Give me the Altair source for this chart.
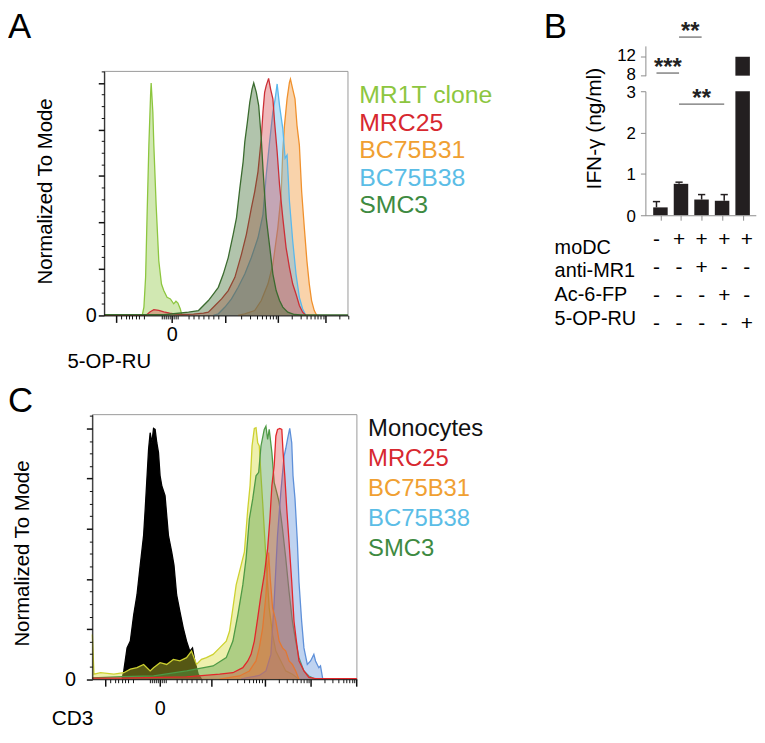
import altair as alt
import pandas as pd

FONT = "Liberation Sans"
W, H = 755, 725

# ---------------- Panel A : 5-OP-RU (x: display channel, y: % of mode)
A_XDOM, A_YDOM = [0, 245.7], [0, 105]
A_X_MAJOR = [11.7, 68, 121.7, 175, 222.7]
A_X_MINOR = [16.7, 21.7, 25, 28.3, 31.7, 35, 40, 58, 60, 62, 64, 66, 70, 72, 74,
             85, 90, 95, 100, 105, 110, 115, 137.7, 147.1, 153.8, 159, 163.2, 166.7,
             169.8, 172.6, 189.4, 197.8, 203.7, 208.3, 212.1, 215.3, 218.1, 220.5, 237.1, 245.5]
Y_MAJOR = [0, 20, 40, 60, 80, 100]
Y_MINOR = [5, 10, 15, 25, 30, 35, 45, 50, 55, 65, 70, 75, 85, 90, 95, 105]

A_MR1T_x = [38.3, 40, 41.7, 43.3, 45, 46.7, 47.3, 49, 50, 52.3, 55, 57.7, 60, 63.3, 66.7, 70, 72.3, 74.3, 76.7, 78.3]
A_MR1T_y = [0, 3.6, 16.4, 44.8, 73.3, 94.6, 100, 87.5, 73.3, 47.7, 23.5, 13.5, 10.7, 7.8, 7.1, 5, 6.1, 5.3, 2.8, 0]
A_MRC25_x = [0, 42, 46, 50, 55, 60, 66, 72, 78.3, 90, 100, 105, 111.7, 118.3, 125, 131.7, 138.3, 143.3, 148.3, 151.7,
             155, 158.3, 160, 161.7, 163.3, 165.7, 167.7, 170, 171.7, 174.3, 176.7, 180, 183.3, 186.7, 190, 193.3, 196.7, 200, 203.3]
A_MRC25_y = [0, 0, 1.5, 2.5, 2.2, 1.5, 1, 0.6, 0.4, 0.6, 1, 1.4, 4.3, 7.1, 10.7, 16.4, 26.3, 34.9, 46.2, 53.3,
             61.9, 76.1, 87.5, 96, 98.9, 102, 97.4, 93.2, 83.2, 70.4, 56.2, 42, 29.2, 20.6, 13.5, 9.2, 4.3, 1.4, 0]
A_B38_x = [110, 115, 121.7, 128.3, 135, 141.7, 148.3, 155, 160, 163.3, 166.7, 170, 172.3, 174.3, 176.7, 180,
           182.3, 184.3, 186.7, 190, 193.3, 196.7, 200, 203.3]
A_B38_y = [0, 0.7, 3.6, 7.1, 12.1, 17.8, 24.9, 33.4, 43.4, 60.5, 74.7, 87.5, 93.2, 99.6, 90.3, 80.4,
           67.6, 69, 49.1, 32, 17.8, 7.8, 2.8, 0]
A_B31_x = [135, 141.7, 151.7, 158.3, 165, 170, 175, 178.3, 180, 181.7, 184.3, 186.7, 187.7, 190, 192.3, 194.3,
           196.7, 199, 201.7, 204.3, 206.7, 209, 211.7, 214.3]
A_B31_y = [0, 0.7, 2.1, 6.4, 13.5, 22, 37.7, 51.9, 70.4, 81.8, 93.2, 100.3, 101.7, 97.4, 93.2, 81.8,
           73.3, 53.3, 37.7, 23.5, 13.5, 6.4, 2.1, 0]
A_SMC3_x = [0, 60, 85, 95, 105, 110, 115, 120, 125, 130, 133.3, 136.7, 140, 141.7, 144.3, 146.7, 149, 150.7,
            153.3, 155.7, 158.3, 160, 161.7, 163.3, 165.7, 167.7, 170, 173.3, 176.7, 180, 185, 191.7, 198.3, 245.7]
A_SMC3_y = [0.3, 0.3, 1.4, 2.1, 6.4, 9.2, 12.1, 17.8, 24.9, 34.9, 42, 54.8, 66.1, 74.7, 83.2, 91.7, 97.4, 100,
            96, 90.3, 76.1, 63.3, 51.9, 42, 33.4, 26.3, 17.8, 10.7, 6.4, 3.6, 1.4, 0.4, 0.2, 0.2]
A_LEGEND = ["MR1T clone", "MRC25", "BC75B31", "BC75B38", "SMC3"]
A_LEGEND_COLORS = ["#8dc63f", "#d7282f", "#f0a032", "#5bbde6", "#3e8a41"]

# ---------------- Panel C : CD3
C_XDOM, C_YDOM = [0, 266.7], [0, 105.5]
C_X_MAJOR = [13, 68, 120.3, 173.7, 220.3, 266.3]
C_X_MINOR = [18, 23, 26.3, 29.7, 33, 36.3, 41.3, 58, 60, 62, 64, 66, 70, 72, 74, 85, 90, 95, 100, 105, 110, 115,
             136.4, 145.8, 152.5, 157.6, 161.8, 165.3, 168.4, 171.2, 187.7, 196, 201.8, 206.3, 210, 213.1, 215.9,
             218.2, 234.1, 242.2, 248, 252.5, 256.1, 259.2, 261.9, 264.3]

C_MONO_x = [30, 31.7, 35, 38.3, 41.7, 45, 48.3, 51.7, 53.3, 55, 56.7, 58.3, 60, 61.7, 63.3, 65, 66.7, 68.3, 70,
            73.3, 75, 76.7, 80, 82.3, 85, 88.3, 91.7, 95, 98.3, 101, 103.3, 106.7, 110]
C_MONO_y = [0, 3.3, 12.5, 15.2, 25.7, 33.6, 45.5, 57.4, 67.9, 79.8, 91.7, 98.3, 94.3, 100, 99.6, 94.3, 90.4, 81.1,
            77.2, 73.2, 65.3, 57.4, 50.8, 45.5, 33.6, 27, 20.4, 15.2, 11.2, 12.5, 7.3, 2, 0]
C_YEL_x = [0, 1.7, 8.3, 21.7, 31.7, 38.3, 45, 51.7, 58.3, 61.7, 68.3, 75, 81.7, 88.3, 95, 100, 105, 110, 115, 121.7,
           128.3, 135, 138.3, 141.7, 145, 150, 153.3, 156.7, 159, 161, 163.3, 165, 166.7, 168.3, 170, 171.7, 175,
           178.3, 181.7, 185, 190, 195, 201.7, 208.3]
C_YEL_y = [17.8, 2, 2.6, 2, 2.6, 4, 4.6, 5.9, 3.3, 4.6, 6.6, 5.9, 7.9, 7.3, 8.6, 11.2, 5.9, 7.9, 8.6, 9.9,
           12.5, 15.2, 19.1, 28.4, 37.6, 45.5, 50.8, 67.9, 77.2, 93, 100, 100.3, 94.3, 93, 81.1, 70.6, 48.2,
           28.4, 17.8, 11.2, 7.3, 3.3, 2, 0]
C_SMC3_x = [0, 30, 61.7, 95, 121.7, 135, 141.7, 146.7, 151.7, 155, 158.3, 161.7, 165, 167.7, 170, 173.3, 175,
            176.7, 178.3, 181, 183.3, 186.7, 188.3, 191.7, 195, 198.3, 201.7, 205, 208.3, 213.3, 218.3, 225]
C_SMC3_y = [0.5, 1, 1.3, 3.3, 5.3, 8.6, 15.2, 25.7, 37.6, 48.2, 64, 71.9, 81.1, 82.5, 93, 99.6, 100.9,
            95.6, 99.6, 90.4, 78.5, 73.2, 70.6, 60, 48.2, 35, 23.1, 15.2, 8.6, 3.3, 1.3, 0]
C_B38_x = [150, 155, 168.3, 175, 180, 183.3, 186.7, 190, 193.3, 195, 196.7, 199, 201, 202.3, 204.3, 206.7, 208.3,
           211, 213.3, 216.7, 220, 223.3, 225, 228.3, 230, 232.3]
C_B38_y = [0, 0.5, 1.5, 3.3, 9.9, 31, 57.4, 74.5, 89, 92, 95.6, 100, 94.3, 81.1, 71.9, 54.7, 38.9,
           23.1, 12.5, 5.9, 7.3, 9.9, 7.3, 4.6, 5.3, 0]
C_B31_x = [128.3, 148.3, 158.3, 165, 168.3, 171.7, 175, 177.7, 179.3, 181.7, 185, 188.3, 191.7, 195, 198.3, 201.7, 205, 208.3]
C_B31_y = [0, 1.3, 3.3, 7.3, 12.5, 20.4, 33.6, 50.5, 40.2, 28.4, 23.1, 15.2, 12.5, 11.2, 7.3, 5.9, 3.3, 0]
C_MRC25_x = [0, 28.3, 95, 128.3, 141.7, 151.7, 156.7, 160, 163.3, 166.7, 170, 173.3, 176.7, 179, 181, 183.3, 185,
             186.7, 189, 191, 192.3, 194, 196, 198.3, 201, 203.3, 205.7, 208.3, 213.3, 218.3, 225, 266.7]
C_MRC25_y = [0.4, 0.4, 0.9, 2, 2.6, 4.6, 7.3, 9.9, 15.2, 24.4, 33.6, 41.6, 52.1, 64, 77.2, 85.1, 97,
             99.6, 100, 99.6, 90.4, 81.1, 67.9, 54.7, 38.9, 23.1, 15.2, 7.3, 3.3, 0.7, 0.2, 0.2]
C_LEGEND = ["Monocytes", "MRC25", "BC75B31", "BC75B38", "SMC3"]
C_LEGEND_COLORS = ["#111111", "#d7282f", "#f0a032", "#5bbde6", "#3e8a41"]

# ---------------- Panel B : IFN-gamma
B_IDX = [1, 2, 3, 4, 5]
B_MEAN = [0.19, 0.76, 0.38, 0.35, 12]
B_ERR_IDX = [1, 2, 3, 4]
B_ERR_HI = [0.33, 0.80, 0.50, 0.50]
B_SIG_FROM = [1, 2, 2]
B_SIG_TO = [2, 3, 4]
B_SIG_LEVEL = [3.44, 4.31, 2.69]
B_SIG_TEXT = ["***", "**", "**"]
T_ROWS = ["moDC", "anti-MR1", "Ac-6-FP", "5-OP-RU"]
T_SIGNS = [["-", "+", "+", "+", "+"],
           ["-", "-", "+", "-", "-"],
           ["-", "-", "-", "+", "-"],
           ["-", "-", "-", "-", "+"]]


def sc(dom, rng, **kw):
    return alt.Scale(domain=dom, range=rng, nice=False, zero=False, **kw)


def hist(xs, ys, fill, op, xsc, ysc, line=None, lw=1.3):
    df = pd.DataFrame({"x": xs, "y": ys})
    return alt.Chart(df).mark_area(
        fill=fill, fillOpacity=op, line={"color": line or fill, "strokeWidth": lw}
    ).encode(x=alt.X("x:Q", scale=xsc, axis=None), y=alt.Y("y:Q", scale=ysc, axis=None))


def ax(orient, offset, values, size, width=1.0, labels=False, expr=None, pad=2, color="#111111",
       domain=True, fsize=20, loff=0):
    kw = dict(orient=orient, offset=offset, values=values, tickSize=size, tickWidth=width,
              tickColor=color, domain=domain, domainColor=color, domainWidth=1, grid=False,
              title=None, labels=labels, zindex=2, labelOverlap=False, labelFlush=False)
    if labels:
        kw.update(labelFont=FONT, labelFontSize=fsize, labelColor="black", labelPadding=pad, labelOffset=loff)
        if expr:
            kw.update(labelExpr=expr)
    return alt.Axis(**kw)


def frame(xdom, ydom, xsc, ysc, xaxis, yaxis, stroke_op):
    df = pd.DataFrame({"x0": [xdom[0]], "x1": [xdom[1]], "y0": [ydom[0]], "y1": [ydom[1]]})
    return alt.Chart(df).mark_rect(fillOpacity=0, stroke="#9a9a9a", strokeWidth=1, strokeOpacity=stroke_op).encode(
        x=alt.X("x0:Q", scale=xsc, axis=xaxis), x2="x1:Q",
        y=alt.Y("y0:Q", scale=ysc, axis=yaxis), y2="y1:Q")


def text(t, x, y, size, color="black", angle=0, align="left", baseline="middle", weight="normal"):
    return alt.Chart(pd.DataFrame({"t": [t]})).mark_text(
        font=FONT, fontSize=size, color=color, angle=angle, align=align, baseline=baseline, fontWeight=weight
    ).encode(x=alt.value(x), y=alt.value(y), text="t:N")


def legend(labels, colors, x, yrng, size):
    df = pd.DataFrame({"label": labels, "color": colors, "row": list(range(len(labels)))})
    return alt.Chart(df).mark_text(font=FONT, fontSize=size, align="left", baseline="middle").encode(
        x=alt.value(x), y=alt.Y("row:Q", scale=sc([0, len(labels) - 1], yrng), axis=None),
        text="label:N", color=alt.Color("color:N", scale=None))


layers = []

# ---- Panel A
AX = sc(A_XDOM, [97, 342.7])
AY = sc(A_YDOM, [307, 61])
layers.append(frame(A_XDOM, A_YDOM, AX, AY,
                    ax("bottom", 307 - H, A_X_MAJOR, 7, 1.5, True, "datum.value == 68 ? '0' : ''", 2),
                    ax("left", -97, Y_MAJOR, 6, 1.5, True, "datum.value == 0 ? '0' : ''", 2), 1))
layers.append(frame(A_XDOM, A_YDOM, AX, AY,
                    ax("bottom", 307 - H, A_X_MINOR, 3.5, 1, domain=False),
                    ax("left", -97, Y_MINOR, 3, 1, domain=False), 0))
layers += [
    hist(A_MR1T_x, A_MR1T_y, "#8dc63f", 0.4, AX, AY),
    hist(A_B31_x, A_B31_y, "#f0912d", 0.4, AX, AY),
    hist(A_B38_x, A_B38_y, "#5ab8ec", 0.4, AX, AY),
    hist(A_MRC25_x, A_MRC25_y, "#d0343a", 0.35, AX, AY, "#cc2f36"),
    hist(A_SMC3_x, A_SMC3_y, "#3b6b2f", 0.4, AX, AY),
]

# ---- Panel C
CX = sc(C_XDOM, [85, 351.7])
CY = sc(C_YDOM, [673.7, 407])
layers.append(frame(C_XDOM, C_YDOM, CX, CY,
                    ax("bottom", 673.7 - H, C_X_MAJOR, 7, 1.5, True, "datum.value == 68 ? '0' : ''", 13),
                    ax("left", -85, Y_MAJOR, 6, 1.5, True, "datum.value == 0 ? '0' : ''", 11), 1))
layers.append(frame(C_XDOM, C_YDOM, CX, CY,
                    ax("bottom", 673.7 - H, C_X_MINOR, 3.5, 1, domain=False),
                    ax("left", -85, Y_MINOR, 3, 1, domain=False), 0))
layers += [
    hist(C_MONO_x, C_MONO_y, "#000000", 1.0, CX, CY),
    hist(C_YEL_x, C_YEL_y, "#d5d933", 0.4, CX, CY, "#cdd130"),
    hist(C_SMC3_x, C_SMC3_y, "#4e9a45", 0.4, CX, CY),
    hist(C_B38_x, C_B38_y, "#5e90d9", 0.4, CX, CY),
    hist(C_B31_x, C_B31_y, "#e8972c", 0.35, CX, CY),
    hist(C_MRC25_x, C_MRC25_y, "#d94040", 0.35, CX, CY, "#e3262a"),
]

# ---- Panel B
GREY = "#8c8c8c"
BX = sc([0.5, 5.4], [642.3, 753.8])
BLO = sc([0, 3], [206, 81])
BLO_C = sc([0, 3], [206, 81], clamp=True)
BHI = sc([8, 14.3], [65.3, 35.3])
dfB = pd.DataFrame({"i": B_IDX, "v": B_MEAN})
layers.append(alt.Chart(dfB).mark_bar(size=14.6, color="#231f20").encode(
    x=alt.X("i:Q", scale=BX, axis=ax("bottom", 206 - H, B_IDX, 5, 1, color=GREY)),
    y=alt.Y("v:Q", scale=BLO_C,
            axis=ax("left", -642.5, [0, 1, 2, 3], 5, 1, True, None, 5, GREY, fsize=17, loff=1))))
layers.append(alt.Chart(dfB).transform_filter("datum.v > 8").mark_bar(size=14.6, color="#231f20").encode(
    x=alt.X("i:Q", scale=BX, axis=None),
    y=alt.Y("v:Q", scale=BHI, axis=ax("left", -642.5, [8, 12], 5, 1, True, None, 5, GREY, fsize=17, loff=-1.5)),
    y2=alt.datum(8)))
dfE = pd.DataFrame({"i": B_ERR_IDX, "m": [B_MEAN[k - 1] for k in B_ERR_IDX], "e": B_ERR_HI})
layers.append(alt.Chart(dfE).mark_rule(color="#231f20", strokeWidth=1.5).encode(
    x=alt.X("i:Q", scale=BX, axis=None), y=alt.Y("m:Q", scale=BLO, axis=None), y2="e:Q"))
layers.append(alt.Chart(dfE).transform_calculate(a="datum.i - 0.16", b="datum.i + 0.16").mark_rule(
    color="#231f20", strokeWidth=1.5).encode(
    x=alt.X("a:Q", scale=BX, axis=None), x2="b:Q", y=alt.Y("e:Q", scale=BLO, axis=None)))
dfS = pd.DataFrame({"x1": B_SIG_FROM, "x2": B_SIG_TO, "lev": B_SIG_LEVEL, "s": B_SIG_TEXT})
layers.append(alt.Chart(dfS).mark_rule(color="#707070", strokeWidth=1.3).encode(
    x=alt.X("x1:Q", scale=BX, axis=None), x2="x2:Q", y=alt.Y("lev:Q", scale=BLO, axis=None)))
layers.append(alt.Chart(dfS).transform_calculate(mid="(datum.x1 + datum.x2) / 2").mark_text(
    font=FONT, fontSize=24, fontWeight="bold", align="center", baseline="alphabetic", dy=2, color="#222222").encode(
    x=alt.X("mid:Q", scale=BX, axis=None), y=alt.Y("lev:Q", scale=BLO, axis=None), text="s:N"))

rows = []
for r, signs in enumerate(T_SIGNS):
    for k, s in enumerate(signs):
        rows.append({"i": B_IDX[k], "r": r, "s": s})
layers.append(alt.Chart(pd.DataFrame(rows)).mark_text(
    font=FONT, fontSize=21, align="center", baseline="middle", color="black").encode(
    x=alt.X("i:Q", scale=BX, axis=None), y=alt.Y("r:Q", scale=sc([0, 3], [231, 315.3]), axis=None), text="s:N"))
layers.append(alt.Chart(pd.DataFrame({"label": T_ROWS, "r": [0, 1, 2, 3]})).mark_text(
    font=FONT, fontSize=20, align="left", baseline="middle", color="black").encode(
    x=alt.value(551), y=alt.Y("r:Q", scale=sc([0, 3], [238.7, 310.3]), axis=None), text="label:N"))

# ---- legends and titles
layers.append(legend(A_LEGEND, A_LEGEND_COLORS, 354, [85, 196], 25))
layers.append(legend(C_LEGEND, C_LEGEND_COLORS, 363, [422, 542], 24))
layers += [
    text("A", 0, 27, 35, baseline="alphabetic"),
    text("B", 540, 27, 35, baseline="alphabetic"),
    text("C", 0, 404, 35, baseline="alphabetic"),
    text("Normalized To Mode", 38, 182, 20.5, angle=270, align="center"),
    text("5-OP-RU", 60, 353.7, 20.5),
    text("Normalized To Mode", 15, 547, 20.5, angle=270, align="center"),
    text("CD3", 44, 713.5, 21),
    text("IFN-\u03b3 (ng/ml)", 592, 118.7, 21, angle=270, align="center"),
]

chart = alt.layer(*layers).resolve_scale(x="independent", y="independent").properties(
    width=W, height=H, padding=0, autosize=alt.AutoSizeParams(type="none")
).configure_view(stroke=None)

chart.save("out.html", embed_options={"renderer": "svg", "actions": False})
